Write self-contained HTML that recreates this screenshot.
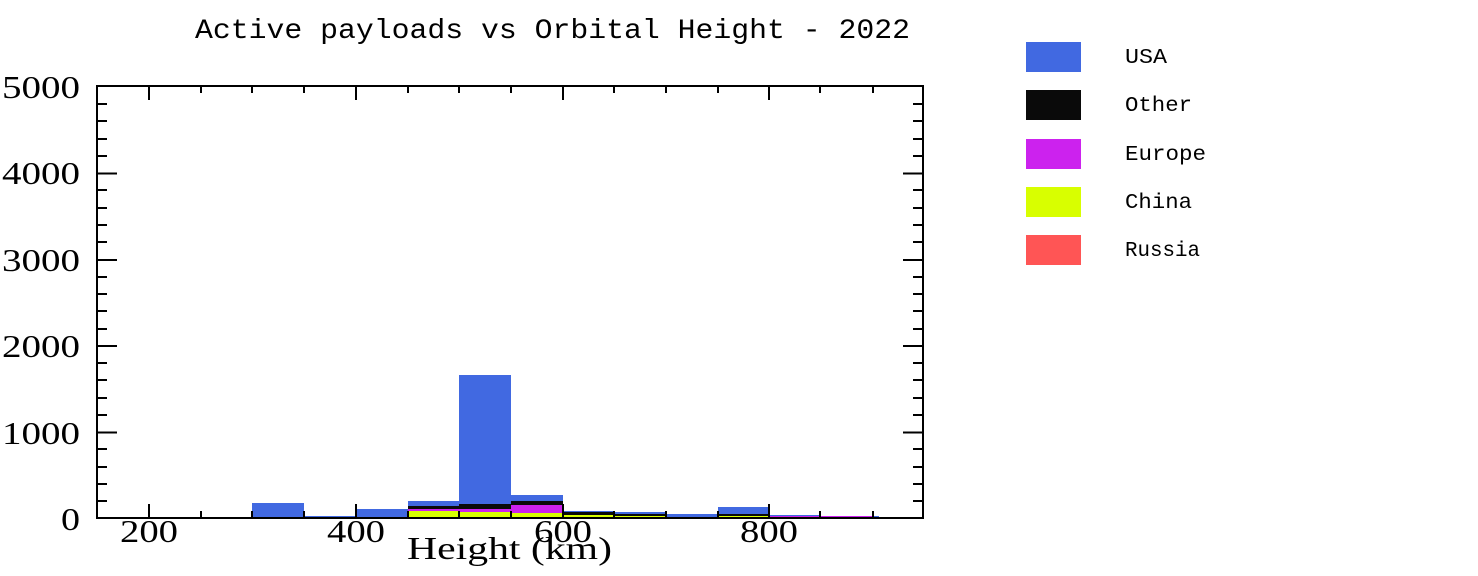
<!DOCTYPE html>
<html><head><meta charset="utf-8"><style>html,body{margin:0;padding:0;background:#fff;}svg{display:block}</style></head>
<body>
<svg width="1478" height="576" viewBox="0 0 1478 576" xmlns="http://www.w3.org/2000/svg">
<rect width="1478" height="576" fill="#fff"/>
<text x="195" y="38" font-family="Liberation Mono, monospace" font-size="28" textLength="715" lengthAdjust="spacingAndGlyphs">Active payloads vs Orbital Height - 2022</text>
<g shape-rendering="crispEdges">
<rect x="252" y="503" width="52" height="15" fill="#4169e1"/>
<rect x="304" y="516" width="52" height="2" fill="#4169e1"/>
<rect x="356" y="509" width="52" height="9" fill="#4169e1"/>
<rect x="408" y="501" width="51" height="17" fill="#4169e1"/>
<rect x="408" y="506" width="51" height="3" fill="#0a0a0a"/>
<rect x="408" y="509" width="51" height="2" fill="#cc22ee"/>
<rect x="408" y="511" width="51" height="7" fill="#d8ff00"/>
<rect x="459" y="375" width="52" height="143" fill="#4169e1"/>
<rect x="459" y="504" width="52" height="5" fill="#0a0a0a"/>
<rect x="459" y="509" width="52" height="3" fill="#cc22ee"/>
<rect x="459" y="512" width="52" height="6" fill="#d8ff00"/>
<rect x="511" y="495" width="52" height="23" fill="#4169e1"/>
<rect x="511" y="501" width="52" height="4" fill="#0a0a0a"/>
<rect x="511" y="505" width="52" height="8" fill="#cc22ee"/>
<rect x="511" y="513" width="52" height="5" fill="#d8ff00"/>
<rect x="563" y="511" width="51" height="7" fill="#4169e1"/>
<rect x="563" y="512" width="51" height="3" fill="#0a0a0a"/>
<rect x="563" y="515" width="51" height="3" fill="#d8ff00"/>
<rect x="614" y="512" width="52" height="6" fill="#4169e1"/>
<rect x="614" y="514" width="52" height="2" fill="#0a0a0a"/>
<rect x="614" y="516" width="52" height="2" fill="#d8ff00"/>
<rect x="666" y="514" width="52" height="4" fill="#4169e1"/>
<rect x="718" y="507" width="51" height="11" fill="#4169e1"/>
<rect x="718" y="514" width="51" height="2" fill="#0a0a0a"/>
<rect x="718" y="516" width="51" height="2" fill="#d8ff00"/>
<rect x="769" y="515" width="51" height="3" fill="#4169e1"/>
<rect x="769" y="516" width="51" height="2" fill="#cc22ee"/>
<rect x="820" y="516" width="53" height="2" fill="#cc22ee"/>
<rect x="873" y="516" width="6" height="2" fill="#4169e1"/>
<rect x="97" y="517" width="826" height="2" fill="#ff5555"/>
</g>
<g stroke="#000" stroke-width="2" fill="none" shape-rendering="crispEdges">
<rect x="97" y="86" width="826" height="432"/>
<path d="M97 432.6h20M97 346.2h20M97 259.8h20M97 173.4h20M923 432.6h-20M923 346.2h-20M923 259.8h-20M923 173.4h-20"/>
<path d="M97 501h10M97 484h10M97 467h10M97 449h10M97 415h10M97 398h10M97 380h10M97 363h10M97 329h10M97 311h10M97 294h10M97 277h10M97 242h10M97 225h10M97 208h10M97 190h10M97 156h10M97 139h10M97 121h10M97 104h10"/>
<path d="M923 501h-10M923 484h-10M923 467h-10M923 449h-10M923 415h-10M923 398h-10M923 380h-10M923 363h-10M923 329h-10M923 311h-10M923 294h-10M923 277h-10M923 242h-10M923 225h-10M923 208h-10M923 190h-10M923 156h-10M923 139h-10M923 121h-10M923 104h-10"/>
<path d="M149 86v14M356 86v14M563 86v14M769 86v14M201 86v7M252 86v7M304 86v7M408 86v7M459 86v7M511 86v7M614 86v7M666 86v7M718 86v7M820 86v7M873 86v7"/>
<path d="M149 518v-14M356 518v-14M563 518v-14M769 518v-14M201 518v-7M252 518v-7M304 518v-7M408 518v-7M459 518v-7M511 518v-7M614 518v-7M666 518v-7M718 518v-7M820 518v-7M873 518v-7"/>
</g>
<g font-family="Liberation Serif, serif" font-size="32" fill="#000">
<text x="2" y="98" textLength="78" lengthAdjust="spacingAndGlyphs">5000</text>
<text x="2" y="184" textLength="78" lengthAdjust="spacingAndGlyphs">4000</text>
<text x="2" y="271" textLength="78" lengthAdjust="spacingAndGlyphs">3000</text>
<text x="2" y="357" textLength="78" lengthAdjust="spacingAndGlyphs">2000</text>
<text x="2" y="444" textLength="78" lengthAdjust="spacingAndGlyphs">1000</text>
<text x="61" y="530" textLength="19" lengthAdjust="spacingAndGlyphs">0</text>
<text x="120" y="542" textLength="58" lengthAdjust="spacingAndGlyphs">200</text>
<text x="327" y="542" textLength="58" lengthAdjust="spacingAndGlyphs">400</text>
<text x="534" y="542" textLength="58" lengthAdjust="spacingAndGlyphs">600</text>
<text x="740" y="542" textLength="58" lengthAdjust="spacingAndGlyphs">800</text>
<text x="407" y="559" textLength="205" lengthAdjust="spacingAndGlyphs">Height (km)</text>
</g>
<rect x="1026" y="42" width="55" height="30" fill="#4169e1"/>
<rect x="1026" y="90" width="55" height="30" fill="#0a0a0a"/>
<rect x="1026" y="139" width="55" height="30" fill="#cc22ee"/>
<rect x="1026" y="187" width="55" height="30" fill="#d8ff00"/>
<rect x="1026" y="235" width="55" height="30" fill="#ff5555"/>
<g font-family="Liberation Mono, monospace" font-size="21" fill="#000">
<text x="1125" y="63" textLength="42" lengthAdjust="spacingAndGlyphs">USA</text>
<text x="1125" y="111" textLength="67" lengthAdjust="spacingAndGlyphs">Other</text>
<text x="1125" y="160" textLength="81" lengthAdjust="spacingAndGlyphs">Europe</text>
<text x="1125" y="208" textLength="67" lengthAdjust="spacingAndGlyphs">China</text>
<text x="1125" y="256" textLength="75" lengthAdjust="spacingAndGlyphs">Russia</text>
</g>
</svg>
</body></html>
